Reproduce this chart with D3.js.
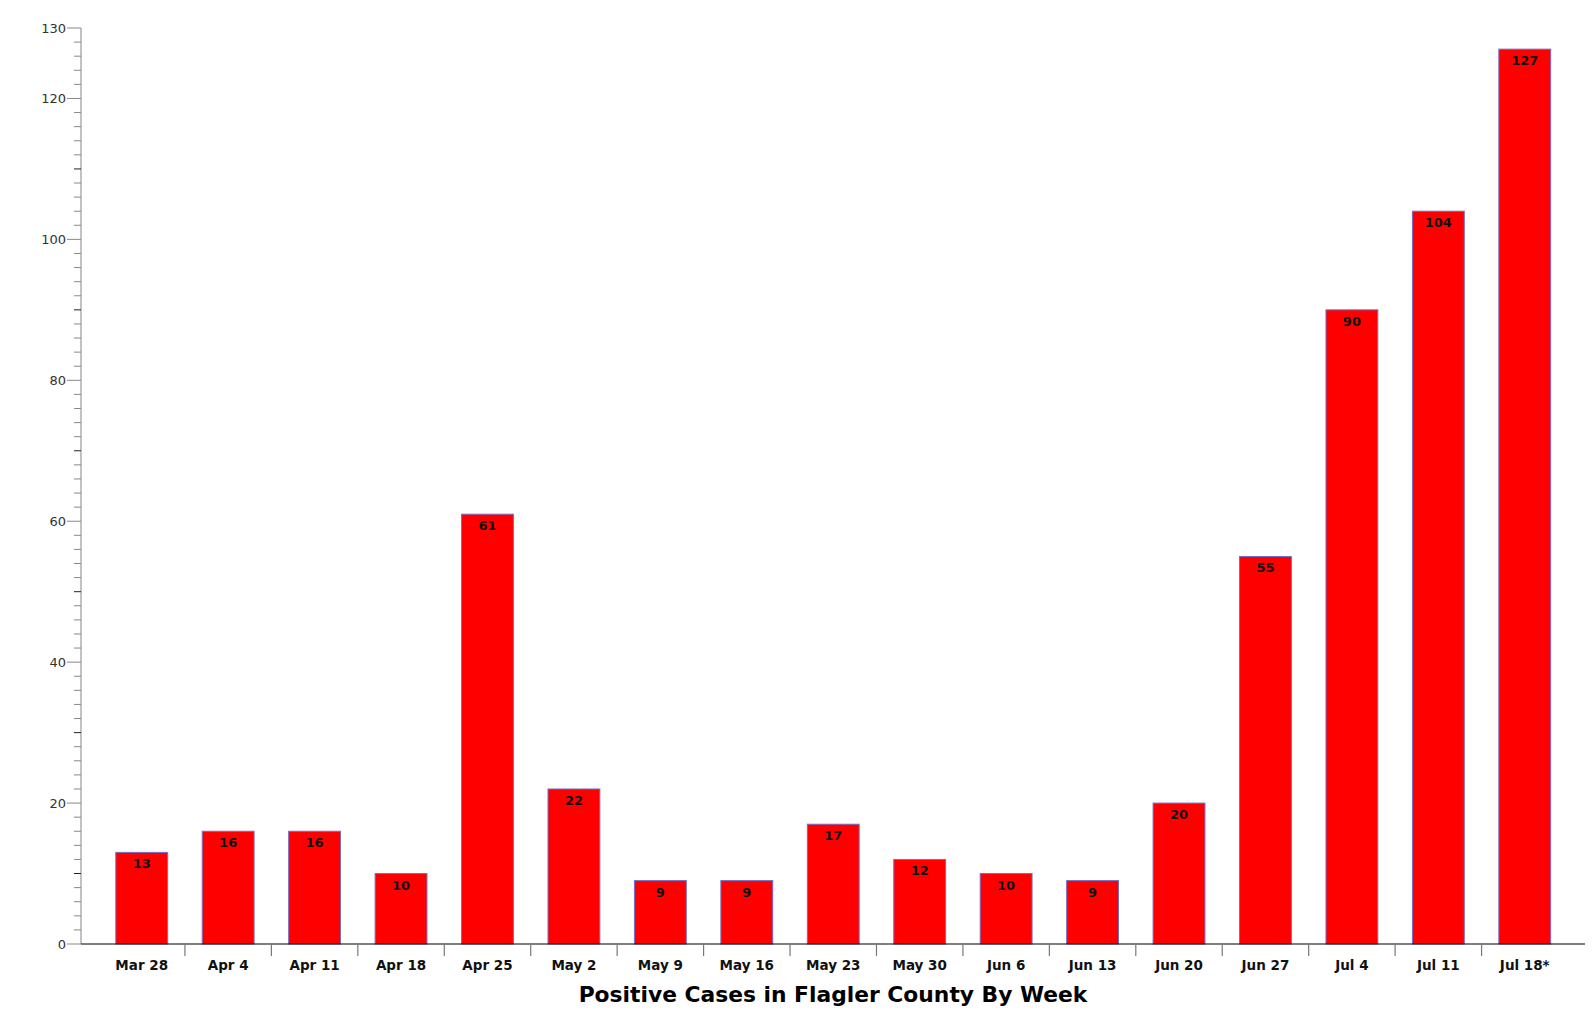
<!DOCTYPE html>
<html>
<head>
<meta charset="utf-8">
<script src="https://cdn.jsdelivr.net/npm/d3@7/dist/d3.min.js"></script>
<style>
  html, body { margin: 0; padding: 0; background: #fff; }
  svg { display: block; }
</style>
</head>
<body>
<svg id="chart" width="1592" height="1017"></svg>
<script>
const categories = ["Mar 28","Apr 4","Apr 11","Apr 18","Apr 25","May 2","May 9","May 16","May 23","May 30","Jun 6","Jun 13","Jun 20","Jun 27","Jul 4","Jul 11","Jul 18*"];
const cases = [13,16,16,10,61,22,9,9,17,12,10,9,20,55,90,104,127];
const yLabelTicks = [0,20,40,60,80,100,120,130];
const titleText = "Positive Cases in Flagler County By Week";

const svg = d3.select("#chart");

const x = d3.scaleBand().domain(categories).range([98.5, 1568]).paddingInner(0.4).paddingOuter(0.2);
const y = d3.scaleLinear().domain([0, 130]).range([944, 28]);
const step = x.step();
const bandStart = x.range()[0];

// Y axis line
svg.append("line").attr("x1", 81).attr("x2", 81).attr("y1", y(130)).attr("y2", y(0))
  .attr("stroke", "#999").attr("stroke-width", 1.2);

// minor ticks every 2
const minor = d3.range(0, 131, 2).filter(v => v % 10 !== 0);
svg.selectAll(".minor").data(minor).join("line")
  .attr("x1", 74).attr("x2", 81).attr("y1", d => y(d)).attr("y2", d => y(d))
  .attr("stroke", "#888").attr("stroke-width", 1);
// tens (unlabelled)
const tens = d3.range(10, 131, 10).filter(v => !yLabelTicks.includes(v));
svg.selectAll(".tens").data(tens).join("line")
  .attr("x1", 74).attr("x2", 81).attr("y1", d => y(d)).attr("y2", d => y(d))
  .attr("stroke", "#222").attr("stroke-width", 1);
// labelled
svg.selectAll(".major").data(yLabelTicks).join("line")
  .attr("x1", 67).attr("x2", 81).attr("y1", d => y(d)).attr("y2", d => y(d))
  .attr("stroke", "#888").attr("stroke-width", 1);
svg.selectAll(".ylab").data(yLabelTicks).join("text")
  .attr("x", 66).attr("y", d => y(d)).attr("dy", "0.35em")
  .attr("text-anchor", "end")
  .attr("font-family", "DejaVu Sans, Verdana, sans-serif")
  .attr("font-size", 13).attr("fill", "#333")
  .text(d => d);

// Bars
svg.selectAll(".bar").data(cases).join("rect")
  .attr("x", (d, i) => x(categories[i]))
  .attr("width", x.bandwidth())
  .attr("y", d => y(d))
  .attr("height", d => y(0) - y(d))
  .attr("fill", "#ff0000")
  .attr("stroke", "#7070c8").attr("stroke-width", 1);

// Value labels
svg.selectAll(".val").data(cases).join("text")
  .attr("x", (d, i) => x(categories[i]) + x.bandwidth() / 2)
  .attr("y", d => y(d) + 16)
  .attr("text-anchor", "middle")
  .attr("font-family", "DejaVu Sans, Verdana, sans-serif")
  .attr("font-weight", "bold").attr("font-size", 13).attr("fill", "#111")
  .text(d => d);

// X axis line
svg.append("line").attr("x1", 81).attr("x2", 1585).attr("y1", y(0)).attr("y2", y(0))
  .attr("stroke", "#000").attr("stroke-width", 1.2);

// category boundary ticks
const bounds = d3.range(1, categories.length);
svg.selectAll(".xtick").data(bounds).join("line")
  .attr("x1", i => bandStart + i * step).attr("x2", i => bandStart + i * step)
  .attr("y1", y(0)).attr("y2", y(0) + 12)
  .attr("stroke", "#777").attr("stroke-width", 1.2);

// X labels
svg.selectAll(".xlab").data(categories).join("text")
  .attr("x", d => x(d) + x.bandwidth() / 2)
  .attr("y", 970)
  .attr("text-anchor", "middle")
  .attr("font-family", "DejaVu Sans, Verdana, sans-serif")
  .attr("font-weight", "bold").attr("font-size", 13.5).attr("fill", "#111")
  .text(d => d);

// Title
svg.append("text")
  .attr("x", 833).attr("y", 1002)
  .attr("text-anchor", "middle")
  .attr("font-family", "DejaVu Sans, Verdana, sans-serif")
  .attr("font-weight", "bold").attr("font-size", 21.8).attr("fill", "#000")
  .text(titleText);
</script>
</body>
</html>
